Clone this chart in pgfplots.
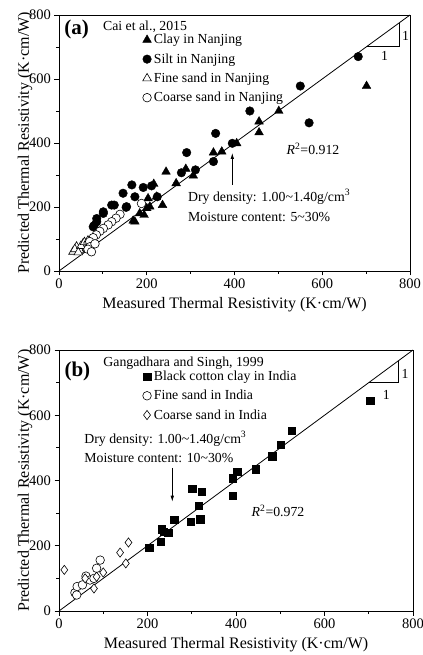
\documentclass[border=0pt]{standalone}
\usepackage{fontspec}
\setmainfont{Liberation Serif}
\usepackage{pgfplots}
\pgfplotsset{compat=1.18}
\usetikzlibrary{arrows.meta}
\newcommand{\lfont}{\fontsize{13.8bp}{16bp}\selectfont}
\begin{document}
\begin{tikzpicture}
\useasboundingbox (0bp,0bp) rectangle (423bp,655bp);
\pgfplotsset{
  myaxis/.style={
    scale only axis,
    xmin=0,xmax=800,ymin=0,ymax=800,
    xtick={0,200,...,800}, ytick={0,200,...,800},
    minor xtick={100,300,500,700}, minor ytick={100,300,500,700},
    tick align=outside, major tick length=4.5bp, minor tick length=3bp,
    xtick pos=bottom, ytick pos=left,
    /pgf/number format/assume math mode=true,
    tick label style={font=\fontsize{14.5bp}{16bp}\selectfont},
    label style={font=\fontsize{16bp}{18bp}\selectfont},
    xlabel={Measured Thermal Resistivity (K·cm/W)},
    ylabel={Predicted Thermal Resistivity (K·cm/W)},
    xlabel style={yshift=-2bp},
    ylabel style={yshift=-10bp},
    axis line style={line width=0.9bp},
    every tick/.style={black, line width=0.8bp},
    clip=false,
    legend cell align=left,
    legend style={draw=none, fill=none, font=\lfont, anchor=north west, row sep=3.2bp, inner sep=0pt,
      nodes={inner sep=2.5bp}, /tikz/every even column/.append style={column sep=4bp}},
  },
}
% ---------------- (a) ----------------
\begin{axis}[myaxis, at={(59bp,384bp)}, anchor=south west, width=351bp, height=256bp,
  legend style={at={(0.238,0.935)}}]
\addplot[black, line width=0.8bp, forget plot] coordinates {(0,0) (800,800)};
\addplot[only marks, mark=triangle*, mark size=5bp, black] coordinates {
(701,578) (501,500) (456,467) (456,433) (405,399) (352,370) (371,373)
(289,319) (306,298) (244,310) (267,274) (216,272) (203,227) (207,201)
(236,206) (184,180) (194,175) (173,154) (200,196) (222,232) (169,157)
};
\addlegendentry{Clay in Nanjing}
\addplot[only marks, mark=*, mark size=4.3bp, black] coordinates {
(682,670) (550,578) (435,500) (570,463) (357,430) (395,399) (352,342)
(291,370) (311,316) (279,307) (166,269) (192,261) (211,266) (224,232)
(173,232) (126,206) (153,199) (101,185) (86,164) (80,142) (146,243)
(120,206) (101,180) (86,154) (78,138) (154,201)
};
\addlegendentry{Silt in Nanjing}
\addplot[only marks, mark=triangle*, mark size=5bp, black, mark options={fill=white, line width=0.6bp}] coordinates {
(32,60) (40,76) (55,86) (47,66) (63,71) (36,68) (50,78) (58,90) (66,95) (44,58)
};
\addlegendentry{Fine sand in Nanjing}
\addplot[only marks, mark=*, mark size=4.3bp, black, mark options={fill=white, line width=0.6bp}] coordinates {
(188,211) (139,177) (130,165) (120,154) (112,144) (101,133) (93,124) (85,113)
(78,104) (70,92) (71,76) (66,68) (74,60) (82,85)
};
\addlegendentry{Coarse sand in Nanjing}
\node[anchor=base west, font=\lfont, inner sep=0pt] at (axis cs:100,753) {Cai et al., 2015};
\node[anchor=base west, font=\bfseries\fontsize{21bp}{24bp}\selectfont, inner sep=0pt] at (axis cs:12,740) {(a)};
\draw[line width=0.7bp] (axis cs:701,701) -- (axis cs:775,701) -- (axis cs:775,775);
\node[font=\lfont] at (axis cs:790,733) {1};
\node[font=\lfont] at (axis cs:742,672) {1};
\draw[line width=0.7bp, -{Latex[length=6bp,width=3.5bp]}] (axis cs:395,269) -- (axis cs:395,369);
\node[anchor=west, font=\lfont, inner sep=0pt] at (axis cs:294,232) {Dry density: 1.00\textasciitilde1.40g/cm\textsuperscript{3}};
\node[anchor=west, font=\lfont, inner sep=0pt] at (axis cs:294,168) {Moisture content: 5\textasciitilde30\%};
\node[font=\lfont] at (axis cs:579,381) {\textit{R}\textsuperscript{2}=0.912};
\end{axis}
% ---------------- (b) ----------------
\begin{axis}[myaxis, at={(59bp,44bp)}, anchor=south west, width=354bp, height=261bp,
  legend style={at={(0.236,0.93)}}]
\addplot[black, line width=0.8bp, forget plot] coordinates {(0,0) (800,800)};
\addplot[only marks, mark=square*, mark size=3.7bp, black] coordinates {
(204,194) (230,213) (232,251) (236,243) (247,240) (260,279) (298,274)
(301,374) (316,322) (319,281) (322,366) (392,353) (392,407) (403,427)
(444,435) (482,475) (501,509) (526,552) (703,645)
};
\addlegendentry{Black cotton clay in India}
\addplot[only marks, mark=*, mark size=4.3bp, black, mark options={fill=white, line width=0.6bp}] coordinates {
(36,56) (40,49) (41,75) (61,107) (70,95) (85,131) (93,156) (53,80) (79,100)
};
\addlegendentry{Fine sand in India}
\addplot[only marks, mark=diamond*, mark size=4.6bp, black, mark options={fill=white, line width=0.6bp}] coordinates {
(12,126) (138,179) (157,210) (151,146) (100,118) (79,69) (59,100) (85,105)
};
\addlegendentry{Coarse sand in India}
\node[anchor=base west, font=\lfont, inner sep=0pt] at (axis cs:100,750) {Gangadhara and Singh, 1999};
\node[anchor=base west, font=\bfseries\fontsize{21bp}{24bp}\selectfont, inner sep=0pt] at (axis cs:12,718) {(b)};
\draw[line width=0.7bp] (axis cs:701,700) -- (axis cs:767,700) -- (axis cs:767,767);
\node[font=\lfont] at (axis cs:782,726) {1};
\node[font=\lfont] at (axis cs:740,663) {1};
\draw[line width=0.7bp, -{Latex[length=6bp,width=3.5bp]}] (axis cs:256,439) -- (axis cs:256,335);
\node[anchor=west, font=\lfont, inner sep=0pt] at (axis cs:57,528) {Dry density: 1.00\textasciitilde1.40g/cm\textsuperscript{3}};
\node[anchor=west, font=\lfont, inner sep=0pt] at (axis cs:57,470) {Moisture content: 10\textasciitilde30\%};
\node[font=\lfont] at (axis cs:495,308) {\textit{R}\textsuperscript{2}=0.972};
\end{axis}
\end{tikzpicture}
\end{document}
